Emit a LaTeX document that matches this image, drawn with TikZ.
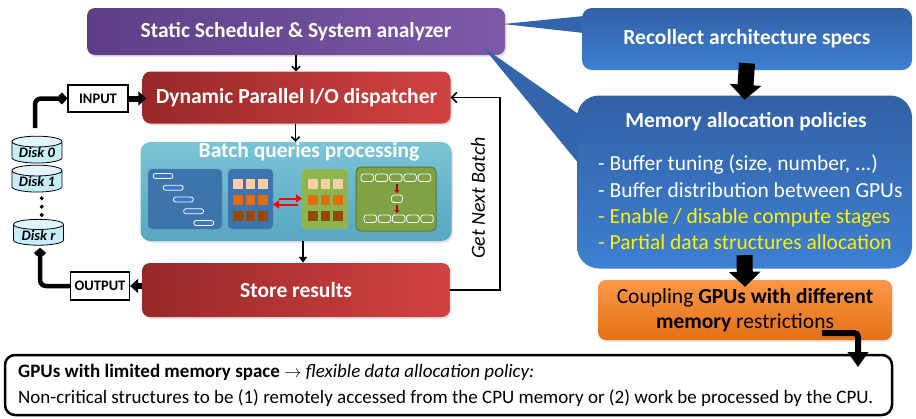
\documentclass[tikz,border=0pt]{standalone}
\usepackage{fontspec}
\setmainfont{Carlito}
\usetikzlibrary{arrows.meta, shapes.geometric, shadows}

\definecolor{schedL}{RGB}{92,62,134}
\definecolor{schedR}{RGB}{126,90,168}
\definecolor{redL}{RGB}{152,40,40}
\definecolor{redR}{RGB}{210,66,66}
\definecolor{tealT}{RGB}{122,196,215}
\definecolor{tealB}{RGB}{88,166,192}
\definecolor{blueT}{RGB}{50,96,166}
\definecolor{blueB}{RGB}{62,128,210}
\definecolor{tailblue}{RGB}{52,100,172}
\definecolor{panelblue}{RGB}{62,116,172}
\definecolor{pillblue}{RGB}{60,120,200}
\definecolor{panelgreen}{RGB}{140,180,80}
\definecolor{gridgreen}{RGB}{126,162,68}
\definecolor{darkgreen}{RGB}{90,120,45}
\definecolor{peach}{RGB}{250,205,165}
\definecolor{orangesq}{RGB}{228,108,10}
\definecolor{brownsq}{RGB}{150,72,6}
\definecolor{orangeT}{RGB}{249,152,72}
\definecolor{orangeB}{RGB}{230,112,20}
\definecolor{diskfill}{RGB}{198,238,250}

\begin{document}
\begin{tikzpicture}[x=1pt, y=-1pt,
        titletext/.style={font=\fontsize{21.5}{24}\selectfont\bfseries, text=white},
        softshadow/.style={drop shadow={opacity=0.22, shadow xshift=1.5pt, shadow yshift=-2pt}},
        redbox/.style={rounded corners=8pt, left color=redL, right color=redR, minimum width=308pt, minimum height=52pt, softshadow, titletext},
        iobox/.style={draw, line width=1.2pt, fill=white, font=\fontsize{14.5}{16}\selectfont\bfseries, minimum height=27pt, inner sep=2pt},
        diskstack/.style={cylinder, shape border rotate=90, aspect=0.3, draw, line width=0.8pt, cylinder uses custom fill, cylinder body fill=diskfill, cylinder end fill=diskfill!55!white, minimum width=50pt, minimum height=25pt, inner sep=0pt, font=\fontsize{14.5}{16}\selectfont\bfseries\itshape},
        calloutbox/.style={rounded corners=10pt, top color=blueT, bottom color=blueB},
        flowarrow/.style={line width=1.6pt, -{Straight Barb[length=4pt, width=8pt]}},
        fatarrow/.style={line width=6pt, -{Triangle[length=8pt, width=14pt]}},
        bigarrow/.style={line width=16pt, -{Triangle[length=15pt, width=31pt]}},
        pill/.style={draw=white, line width=0.8pt, rounded corners=2.5pt}
    ]
        \useasboundingbox (0,0) rectangle (916,418);

        \node[rounded corners=8pt, left color=schedL, right color=schedR, minimum width=418pt, minimum height=47pt, softshadow, titletext] (sched) at (296,31.5) {Static Scheduler \& System analyzer};
        \node[redbox] (disp) at (296.5,97.5) {Dynamic Parallel I/O dispatcher};
        \node[rounded corners=10pt, top color=tealT, bottom color=tealB, minimum width=311pt, minimum height=99pt, softshadow] (batch) at (296,191.5) {};
        \node[titletext] (batchtitle) at (309,152) {Batch queries processing};
        \node[redbox, minimum height=54pt] (store) at (296,290) {Store results};

        % query icons inside the batch box
        \filldraw[rounded corners=4pt, fill=panelblue, draw=panelblue!80!white] (148,169) rectangle (222,229);
        \foreach \i in {0,...,4}
            \filldraw[pill, fill=pillblue] (153+10.2*\i,173.5+11.75*\i) rectangle ++(20,5);
        \filldraw[rounded corners=4pt, fill=panelblue, draw=panelblue!80!white] (228,169) rectangle (273,229);
        \filldraw[rounded corners=4pt, fill=panelgreen, draw=panelgreen!80!white] (302,169) rectangle (348,229);
        \foreach \c/\y in {peach/179, orangesq/195, brownsq/211} {
            \foreach \x in {233,245.5,258} \fill[\c] (\x,\y) rectangle ++(9.5,10);
            \foreach \x in {308,320.5,333} \fill[\c] (\x,\y) rectangle ++(9.5,10);
        }
        \draw[red, line width=2pt, -{Triangle[length=6pt, width=8pt]}] (279,198.5) -- (302,198.5);
        \draw[red, line width=2pt, -{Triangle[length=6pt, width=8pt]}] (298,204.5) -- (273,204.5);
        \filldraw[rounded corners=5pt, fill=gridgreen, draw=darkgreen, line width=1pt] (356,167) rectangle (436,231);
        \foreach \i in {0,...,4} {
            \filldraw[pill, fill=gridgreen] (361+14.3*\i,174) rectangle ++(12.5,7.5);
            \filldraw[pill, fill=gridgreen] (364+14.2*\i,215) rectangle ++(12.5,7.5);
        }
        \filldraw[pill, fill=gridgreen] (391.5,195) rectangle ++(11,7.5);
        \draw[red!70!black, line width=1.5pt, -{Triangle[length=3pt, width=5pt]}] (397,184) -- (397,193);
        \draw[red!70!black, line width=1.5pt, -{Triangle[length=3pt, width=5pt]}] (397,204.5) -- (397,213);

        \node[iobox, minimum width=60pt] (input) at (98,98.5) {INPUT};
        \node[iobox, minimum width=59pt, minimum height=28pt] (output) at (100,286) {OUTPUT};

        \node[diskstack] (disk0) at (37,152.5) {Disk 0};
        \node[diskstack] (disk1) at (37,181.5) {Disk 1};
        \node[diskstack] (diskr) at (38.5,235) {Disk r};
        \filldraw (41.7,198.3) circle (1.8pt) (41.7,206.7) circle (1.8pt) (41.7,215) circle (1.8pt);

        \coordinate (stackTop) at (35,128);
        \draw[line width=4.5pt, rounded corners=6pt, -{Straight Barb[length=4pt, width=9pt]}] (stackTop) |- (input.west);
        \draw[fatarrow] (input.east) -- ([xshift=4pt]disp.west |- input.east);
        \draw[fatarrow] (store.west |- output.east) -- (output.east);
        \draw[line width=4.5pt, rounded corners=6pt, -{Straight Barb[length=4pt, width=9pt]}] (output.west) -| ([xshift=1.5pt, yshift=-2pt]diskr.south);

        \draw[flowarrow] (sched.south) -- (sched.south |- disp.north);
        \draw[flowarrow] ([xshift=-1pt]disp.south) -- ([xshift=-1pt]disp.south |- batch.north);
        \draw[line width=1.6pt, -{Triangle[length=6pt, width=8pt]}] ([xshift=7pt]batch.south) -- ([xshift=7pt]store.north);

        \coordinate (loopTurn) at (500,0);
        \draw[line width=1.5pt, -{Straight Barb[length=5pt, width=10pt]}] (store.east) -| (loopTurn |- disp.east) -- (disp.east);
        \node[rotate=90, font=\fontsize{20}{22}\selectfont\itshape] (nextbatch) at (478,198) {Get Next Batch};

        \fill[tailblue] (584,16) -- (503,24) -- (584,33) -- cycle;
        \fill[tailblue] (483,47) -- (584,118) -- (584,170) -- cycle;
        \node[calloutbox, minimum width=330pt, minimum height=62pt, titletext] (specs) at (747,39) {Recollect architecture specs};
        \node[calloutbox, rounded corners=22pt, minimum width=335pt, minimum height=173pt] (policy) at (744.5,182) {};
        \node[titletext] (policyhead) at (746,122) {Memory allocation policies};
        \node[anchor=west, align=left, text=white, font=\fontsize{21.5}{26.3}\selectfont, inner sep=0pt] (policylist) at (598,202.5) {- Buffer tuning (size, number, ...)\\- Buffer distribution between GPUs\\\color{yellow}- Enable / disable compute stages\\\color{yellow}- Partial data structures allocation};

        \node[rounded corners=8pt, top color=orangeT, bottom color=orangeB, minimum width=294pt, minimum height=60pt, softshadow, align=center, font=\fontsize{21.5}{25}\selectfont] (coupling) at (745,310) {Coupling \textbf{GPUs with different}\\\textbf{memory} restrictions};

        \draw[bigarrow] ([yshift=7pt]specs.south) -- ([yshift=-4.5pt]policy.north);
        \draw[bigarrow] ([yshift=13.5pt]policy.south) -- ([yshift=-7pt]coupling.north);

        \node[draw, line width=2.5pt, rounded corners=10pt, fill=white, minimum width=887pt, minimum height=60pt] (note) at (448.5,385) {};
        \node[anchor=west, inner sep=0pt, font=\fontsize{19}{22}\selectfont] (notehead) at (18,372) {\textbf{GPUs with limited memory space} $\rightarrow$ \textit{flexible data allocation policy:}};
        \node[anchor=west, inner sep=0pt, font=\fontsize{19}{22}\selectfont] (notebody) at (18,398) {Non-critical structures to be (1) remotely accessed from the CPU memory or (2) work be processed by the CPU.};

        \coordinate (couplingOut) at (822,333);
        \coordinate (noteIn) at (858,367);
        \draw[line width=6pt, rounded corners=4pt, -{Triangle[length=15pt, width=20pt]}] (couplingOut) -| (noteIn);
\end{tikzpicture}
\end{document}
